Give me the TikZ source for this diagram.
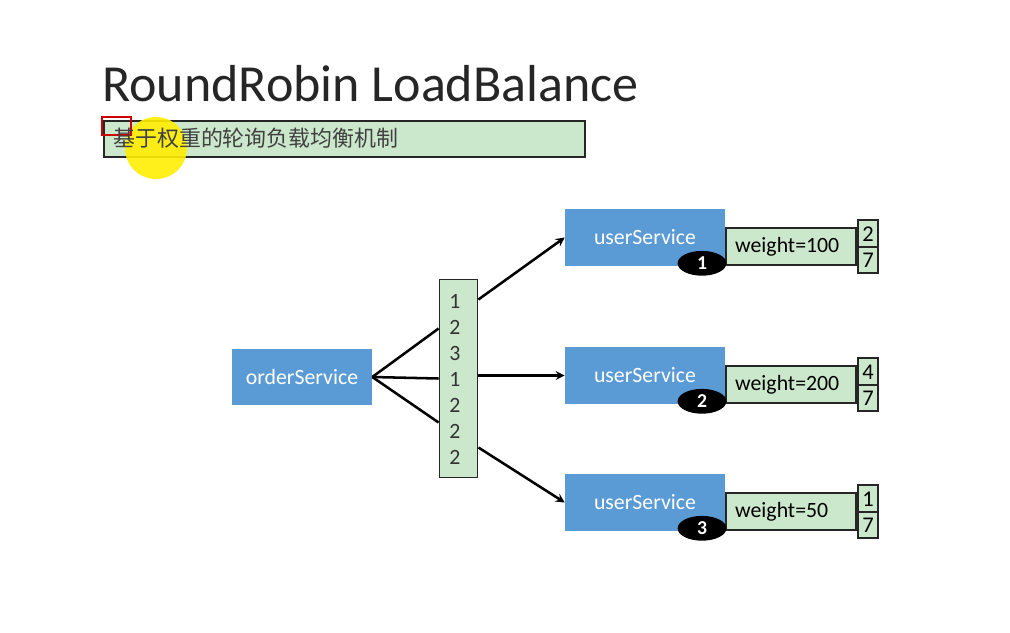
\documentclass[tikz,border=0pt]{standalone}
\usepackage{fontspec}
\setmainfont{Carlito}
\newfontfamily\cjk{Noto Sans CJK SC}
\usetikzlibrary{arrows,calc,positioning,shapes}
\definecolor{svcblue}{HTML}{5B9BD5}
\definecolor{lightgreen}{HTML}{CCE8CC}
\newcommand\boxfont{\fontsize{15.5}{18}\selectfont}
\tikzstyle{link}=[
  draw=black,
  line width=1.8pt,
]
\tikzset{
  >=stealth,
  service/.style={fill=svcblue, text=white, inner sep=0pt, font=\boxfont},
  greenbox/.style={fill=lightgreen, draw=black!85, line width=1.3pt, inner sep=0pt},
  badge/.style={ellipse, fill=black, text=white, inner sep=0pt,
    minimum width=1.22cm, minimum height=0.62cm, font=\bfseries\fontsize{14}{15}\selectfont},
}

\begin{document}
\begin{tikzpicture}[x=0.025cm,y=-0.025cm]
  \useasboundingbox (0,0) rectangle (1010,632);
  \node[anchor=base west, inner sep=0pt, text=black!85,
    font=\fontsize{37}{40}\selectfont] (title) at (102,101) {RoundRobin LoadBalance};

  % subtitle bar
  \node[greenbox, minimum width=12.025cm, minimum height=0.9cm] (sub) at (344.5,139) {};
  \fill[yellow!95!orange, opacity=0.9] (156,148) circle (0.775cm);
  \draw[red!80!black, line width=1.5pt] (102,117) rectangle (131,135);
  \node[anchor=west, inner sep=0pt, text=black!75,
    font=\cjk\fontsize{15.6}{18}\selectfont] (subtext) at (113,138) {基于权重的轮询负载均衡机制};

  \node[service, minimum width=3.5cm, minimum height=1.4cm] (order) at (302,377) {orderService};

  % request sequence
  \node[greenbox, minimum width=0.95cm, minimum height=4.95cm] (col) at (458.5,378.5) {};
  \foreach \n [count=\i] in {1,2,3,1,2,2,2}
    \node[font=\boxfont, text=black!80] (num\i) at (455,275+26*\i) {\n};

  % providers
  \foreach \i/\y/\w/\p in {1/237.5/100/2, 2/375.5/200/4, 3/502.5/50/1} {
    \node[service, minimum width=4cm, minimum height=1.425cm] (user\i) at (645,\y) {userService};
    \node[greenbox, anchor=south west, minimum width=3.25cm, minimum height=0.925cm,
      text width=2.8cm, inner xsep=0.225cm, align=left, font=\boxfont] (weight\i)
      at (user\i.south east) {weight=\w};
    \node[greenbox, right=0pt of weight\i, minimum width=0.5cm, minimum height=1.325cm] (frac\i) {};
    \draw[black!85, line width=1.3pt] (frac\i.west) -- (frac\i.east);
    \node[font=\fontsize{16}{17}\selectfont] (top\i) at ($(frac\i.center)+(0,-13)$) {\p};
    \node[font=\fontsize{16}{17}\selectfont] (bot\i) at ($(frac\i.center)+(0,13)$) {7};
    \node[badge] (badge\i) at ($(user\i.south)+(57,-3)$) {\i};
  }

  \coordinate (in1) at ($(col.west)+(0,-50)$);
  \coordinate (in3) at ($(col.west)+(0,44)$);
  \coordinate (out1) at ($(col.east)+(0,-79)$);
  \coordinate (out3) at ($(col.east)+(0,69)$);

  \draw[link] (order.east) -- (in1);
  \draw[link] (order.east) -- (col.west);
  \draw[link] (order.east) -- (in3);
  \draw[link,->] (out1) -- (user1.west);
  \draw[link,->] (col.east |- user2.west) -- (user2.west);
  \draw[link,->] (out3) -- (user3.west);
\end{tikzpicture}
\end{document}
